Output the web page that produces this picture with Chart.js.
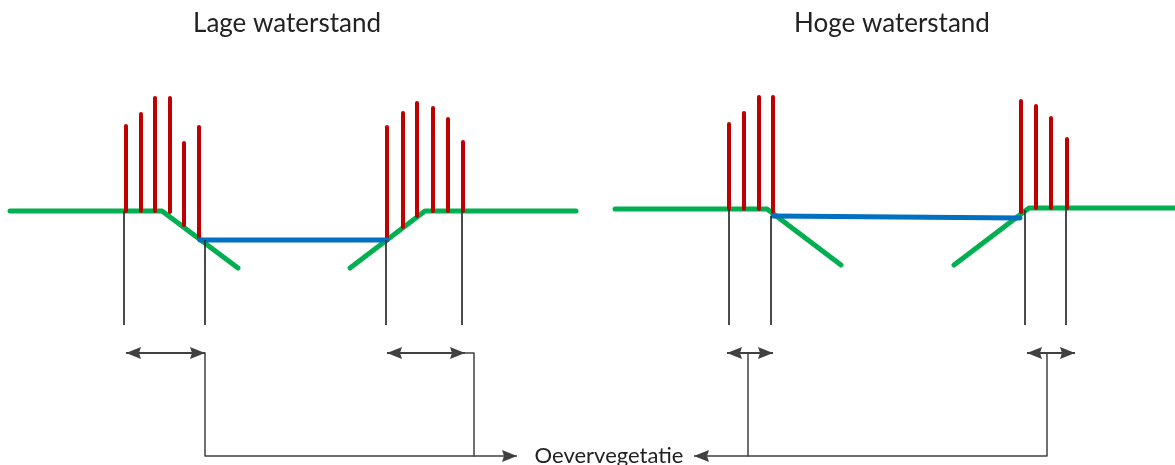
<!DOCTYPE html>
<html>
<head>
<meta charset="utf-8">
<script src="https://cdn.jsdelivr.net/npm/chart.js@4.4.1/dist/chart.umd.min.js"></script>
<style>
  body { margin: 0; background: #fff; }
  #schema { display: block; }
</style>
</head>
<body>
<canvas id="schema" width="1175" height="465"></canvas>
<script>
// titels en label
const titles = ['Lage waterstand', 'Hoge waterstand']
const titleX = [287, 892]
const titleY = 24
const label = 'Oevervegetatie'
const labelX = 609
const labelY = 456

// oever (groen) - lage waterstand
const bankLowLeft = [[10, 211], [162, 211], [238, 268]]
const bankLowRight = [[350, 268], [425, 211], [576, 211]]
// oever (groen) - hoge waterstand
const bankHighLeft = [[615, 209], [767, 209], [841, 265]]
const bankHighRight = [[954, 265], [1029, 208], [1175, 208]]

// waterlijn (blauw)
const waterLow = [[200, 240], [387, 240]]
const waterHigh = [[773, 216], [1020, 218]]

// riet (rood): positie, voet, top
const reedX = [126, 141, 155, 170, 184, 199, 387, 403, 417, 433, 448, 463, 729, 744, 759, 773, 1021, 1036, 1051, 1067]
const reedBase = [211, 211, 211, 212, 225, 238, 239, 227, 216, 211, 211, 211, 209, 209, 209, 212, 212, 208, 208, 208]
const reedTop = [126, 114, 98, 98, 143, 127, 127, 113, 103, 108, 119, 142, 124, 113, 97, 97, 101, 106, 118, 139]

// hulplijnen (zwart)
const markerX = [124, 205, 386, 462, 729, 771, 1025, 1066]
const markerTop = [211, 240, 240, 211, 209, 216, 210, 208]
const markerBottom = 325

// dubbele pijlen
const spanY = 353
const spanFrom = [126, 387, 727, 1027]
const spanTo = [205, 465, 773, 1075]

// verbindingslijnen naar label
const connectLow = [[205, 353], [205, 456], [517, 456]]
const connectLowRight = [[465, 353], [474, 353], [474, 456]]
const connectHigh = [[1047, 353], [1047, 456], [694, 456]]
const connectHighLeft = [[748, 353], [748, 456]]

// pijlpunten: x, y, richting (graden, 0 = rechts)
const arrowHeads = [
  [126, 353, 180], [205, 353, 0], [387, 353, 180], [465, 353, 0],
  [727, 353, 180], [773, 353, 0], [1027, 353, 180], [1075, 353, 0],
  [517, 456, 0], [694, 456, 180]
]

const GREEN = '#00b050'
const RED = '#c00000'
const BLUE = '#0070c0'
const DARK = '#404040'

const toPts = arr => arr.map(p => ({ x: p[0], y: p[1] }))

const segments = (xs, y0, y1) => {
  const out = []
  xs.forEach((x, i) => {
    const a = Array.isArray(y0) ? y0[i] : y0
    const b = Array.isArray(y1) ? y1[i] : y1
    out.push({ x: x, y: a }, { x: x, y: b }, { x: x, y: null })
  })
  return out
}

const lineSet = (data, color, width, cap) => ({
  data: data,
  showLine: true,
  borderColor: color,
  borderWidth: width,
  borderCapStyle: cap || 'round',
  borderJoinStyle: 'round',
  pointRadius: 0,
  spanGaps: false,
  tension: 0
})

const spans = []
spanFrom.forEach((x, i) => spans.push({ x: x, y: spanY }, { x: spanTo[i], y: spanY }, { x: x, y: null }))

const annotate = {
  id: 'annotate',
  afterDatasetsDraw(chart) {
    const { ctx, scales } = chart
    const sx = v => scales.x.getPixelForValue(v)
    const sy = v => scales.y.getPixelForValue(v)

    ctx.save()
    ctx.fillStyle = DARK
    arrowHeads.forEach(a => {
      const x = sx(a[0]), y = sy(a[1])
      const r = a[2] * Math.PI / 180
      ctx.save()
      ctx.translate(x, y)
      ctx.rotate(r)
      ctx.beginPath()
      ctx.moveTo(0, 0)
      ctx.lineTo(-15, -6)
      ctx.lineTo(-13, 0)
      ctx.lineTo(-15, 6)
      ctx.closePath()
      ctx.fill()
      ctx.restore()
    })

    ctx.fillStyle = '#222'
    ctx.textAlign = 'center'
    ctx.textBaseline = 'middle'
    ctx.font = '26px Lato'
    titles.forEach((t, i) => ctx.fillText(t, sx(titleX[i]), sy(titleY)))
    ctx.font = '22px Lato'
    ctx.fillText(label, sx(labelX), sy(labelY))
    ctx.restore()
  }
}

const chart = new Chart(document.getElementById('schema'), {
  type: 'scatter',
  data: {
    datasets: [
      lineSet(segments(markerX, markerTop, markerBottom), '#333', 1, 'butt'),
      lineSet(toPts(waterLow), BLUE, 5),
      lineSet(toPts(waterHigh), BLUE, 5),
      lineSet(segments(reedX, reedBase, reedTop), RED, 4),
      lineSet(toPts(bankLowLeft), GREEN, 5),
      lineSet(toPts(bankLowRight), GREEN, 5),
      lineSet(toPts(bankHighLeft), GREEN, 5),
      lineSet(toPts(bankHighRight), GREEN, 5),
      lineSet(spans, DARK, 2, 'butt'),
      lineSet(toPts(connectLow), DARK, 1.5, 'butt'),
      lineSet(toPts(connectLowRight), DARK, 1.5, 'butt'),
      lineSet(toPts(connectHigh), DARK, 1.5, 'butt'),
      lineSet(toPts(connectHighLeft), DARK, 1.5, 'butt')
    ]
  },
  options: {
    responsive: false,
    animation: false,
    devicePixelRatio: 1,
    layout: { padding: 0 },
    scales: {
      x: { type: 'linear', min: 0, max: 1175, display: false },
      y: { type: 'linear', min: 0, max: 465, reverse: true, display: false }
    },
    plugins: {
      legend: { display: false },
      tooltip: { enabled: false }
    }
  },
  plugins: [annotate]
})
</script>
</body>
</html>
